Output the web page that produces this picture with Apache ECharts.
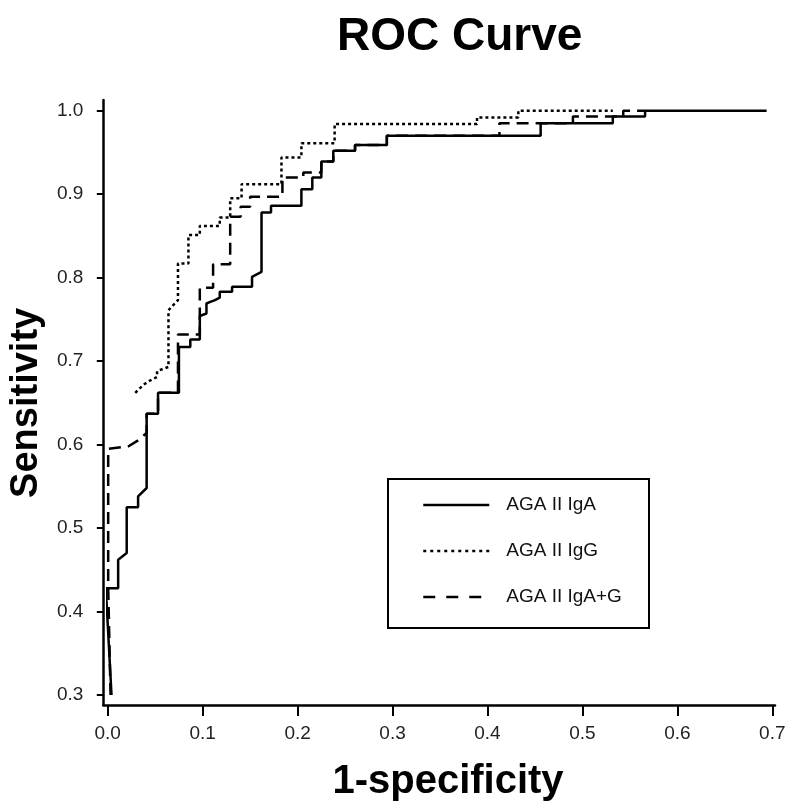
<!DOCTYPE html>
<html>
<head>
<meta charset="utf-8">
<script src="https://cdn.jsdelivr.net/npm/echarts@6/dist/echarts.min.js"></script>
<style>
html,body{margin:0;padding:0;background:#fff;}
#chart{width:800px;height:810px;}
</style>
</head>
<body>
<div id="chart"></div>
<script>
// ---- Data ----
var seriesNames = ['AGA II IgA', 'AGA II IgG', 'AGA II IgA+G'];
var xRange = [0, 0.7];
var yRange = [0.3, 1.0];
var tickStep = 0.1;

// AGA II IgA (solid) : [1-specificity, sensitivity]
var igA = [
  [0.004,0.300],[-0.002,0.428],[0.011,0.428],[0.011,0.462],[0.020,0.470],[0.020,0.525],
  [0.032,0.525],[0.032,0.538],[0.041,0.548],[0.041,0.637],[0.053,0.637],[0.053,0.662],
  [0.075,0.662],[0.075,0.717],[0.087,0.717],[0.087,0.726],[0.097,0.726],[0.097,0.754],
  [0.104,0.757],[0.104,0.769],[0.108,0.771],[0.113,0.773],[0.118,0.776],[0.118,0.783],
  [0.131,0.783],[0.131,0.789],[0.152,0.789],[0.152,0.801],[0.162,0.807],[0.162,0.878],
  [0.172,0.878],[0.172,0.886],[0.204,0.886],[0.204,0.906],[0.2155,0.906],[0.2155,0.920],
  [0.225,0.920],[0.225,0.939],[0.2376,0.939],[0.2376,0.952],[0.2605,0.952],[0.2605,0.959],
  [0.294,0.959],[0.294,0.970],[0.456,0.970],[0.456,0.985],[0.532,0.985],[0.532,0.993],
  [0.566,0.993],[0.566,1.0],[0.694,1.0]
];

// AGA II IgG (dotted)
var igG = [
  [0.029,0.662],[0.038,0.672],[0.045,0.677],[0.052,0.681],[0.052,0.688],[0.059,0.691],
  [0.064,0.693],[0.064,0.761],[0.069,0.767],[0.074,0.773],[0.074,0.817],[0.085,0.817],
  [0.085,0.851],[0.097,0.851],[0.097,0.862],[0.118,0.862],[0.118,0.872],[0.129,0.872],
  [0.129,0.895],[0.141,0.895],[0.141,0.912],[0.183,0.912],[0.183,0.944],[0.204,0.944],
  [0.204,0.961],[0.239,0.961],[0.239,0.984],[0.389,0.984],[0.389,0.992],[0.4325,0.992],
  [0.4325,1.0],[0.532,1.0]
];

// AGA II IgA+G (dashed)
var igAG = [
  [0.003,0.300],[0.0005,0.43],[0.0005,0.595],[0.022,0.598],[0.032,0.605],[0.041,0.614],
  [0.041,0.637],[0.053,0.637],[0.053,0.662],[0.074,0.662],[0.074,0.732],[0.097,0.732],
  [0.097,0.788],[0.111,0.788],[0.111,0.816],[0.129,0.816],[0.129,0.873],[0.140,0.873],
  [0.140,0.885],[0.150,0.885],[0.150,0.897],[0.184,0.897],[0.184,0.920],[0.206,0.920],
  [0.206,0.926],[0.225,0.926],[0.225,0.939],[0.2376,0.939],[0.2376,0.952],[0.2605,0.952],
  [0.2605,0.959],[0.294,0.959],[0.294,0.970],[0.4126,0.970],[0.4126,0.985],[0.49,0.985],
  [0.49,0.993],[0.543,0.993],[0.543,1.0],[0.566,1.0]
];

// ---- Chart ----
var FONT = '"Liberation Sans", Arial, Helvetica, sans-serif';
var chart = echarts.init(document.getElementById('chart'), null, {renderer: 'canvas'});

var dashSolid = 'solid';
var dashDot = [3, 3];
var dashDash = [12, 7];
var hiddenSymbol = {color: 'rgba(0,0,0,0)', borderWidth: 0, opacity: 0};

var option = {
  animation: false,
  backgroundColor: '#fff',
  title: {
    text: 'ROC Curve',
    left: 332, top: 9,
    textStyle: {fontFamily: FONT, fontSize: 46, fontWeight: 'bold', color: '#000'}
  },
  graphic: [{
    type: 'rect', left: 387, top: 478, z: 10,
    shape: {width: 261, height: 149},
    style: {fill: 'rgba(0,0,0,0)', stroke: '#000', lineWidth: 2}
  }],
  legend: {
    orient: 'vertical', left: 422, top: 495, padding: 0, itemGap: 26,
    itemWidth: 66, itemHeight: 14, z: 11,
    itemStyle: hiddenSymbol,
    textStyle: {fontFamily: FONT, fontSize: 19, lineHeight: 20, color: '#111', padding: [0, 0, 0, 12]},
    data: [
      {name: seriesNames[0], itemStyle: hiddenSymbol, lineStyle: {type: dashSolid, width: 2.5, color: '#000'}},
      {name: seriesNames[1], itemStyle: hiddenSymbol, lineStyle: {type: [3, 4], width: 2.5, color: '#000'}},
      {name: seriesNames[2], itemStyle: hiddenSymbol, lineStyle: {type: [12, 11], width: 2.5, color: '#000'}}
    ]
  },
  grid: [
    {left: 107.7, right: 27.7, top: 110.7, bottom: 115},
    {left: 103.3, right: 25, top: 100, bottom: 105}
  ],
  xAxis: [{
    gridIndex: 0, type: 'value', min: xRange[0], max: xRange[1], interval: tickStep,
    offset: 10,
    axisLine: {show: false, onZero: false},
    axisTick: {show: true, length: 11, lineStyle: {color: '#000', width: 2}},
    axisLabel: {margin: 19, fontFamily: FONT, fontSize: 19, color: '#222',
      formatter: function (v) { return v.toFixed(1); }},
    splitLine: {show: false},
    name: '1-specificity', nameLocation: 'middle', nameGap: 57,
    nameTextStyle: {fontFamily: FONT, fontSize: 40, fontWeight: 'bold', color: '#000', padding: [0, 0, 0, 16]}
  }, {
    gridIndex: 1, type: 'value', min: 0, max: 1,
    axisLine: {show: true, onZero: false, lineStyle: {color: '#000', width: 2.5}},
    axisTick: {show: false}, axisLabel: {show: false}, splitLine: {show: false}
  }],
  yAxis: [{
    gridIndex: 0, type: 'value', min: yRange[0], max: yRange[1], interval: tickStep,
    offset: 4.4,
    axisLine: {show: false, onZero: false},
    axisTick: {show: true, length: 6.5, lineStyle: {color: '#000', width: 2}},
    axisLabel: {margin: 20, fontFamily: FONT, fontSize: 19, color: '#222',
      formatter: function (v) { return v.toFixed(1); }},
    splitLine: {show: false},
    name: 'Sensitivity', nameLocation: 'middle', nameGap: 56, nameRotate: 90,
    nameTextStyle: {fontFamily: FONT, fontSize: 38, fontWeight: 'bold', color: '#000'}
  }, {
    gridIndex: 1, type: 'value', min: 0, max: 1,
    axisLine: {show: true, onZero: false, lineStyle: {color: '#000', width: 2.5}},
    axisTick: {show: false}, axisLabel: {show: false}, splitLine: {show: false}
  }],
  series: [
    {name: seriesNames[2], type: 'line', data: igAG, xAxisIndex: 0, yAxisIndex: 0,
      symbol: 'none', clip: false, itemStyle: {color: '#000'},
      lineStyle: {color: '#000', width: 2.5, type: dashDash}},
    {name: seriesNames[1], type: 'line', data: igG, xAxisIndex: 0, yAxisIndex: 0,
      symbol: 'none', clip: false, itemStyle: {color: '#000'},
      lineStyle: {color: '#000', width: 2.5, type: dashDot}},
    {name: seriesNames[0], type: 'line', data: igA, xAxisIndex: 0, yAxisIndex: 0,
      symbol: 'none', clip: false, itemStyle: {color: '#000'},
      lineStyle: {color: '#000', width: 2.5, type: dashSolid}}
  ]
};
chart.setOption(option);
</script>
</body>
</html>
